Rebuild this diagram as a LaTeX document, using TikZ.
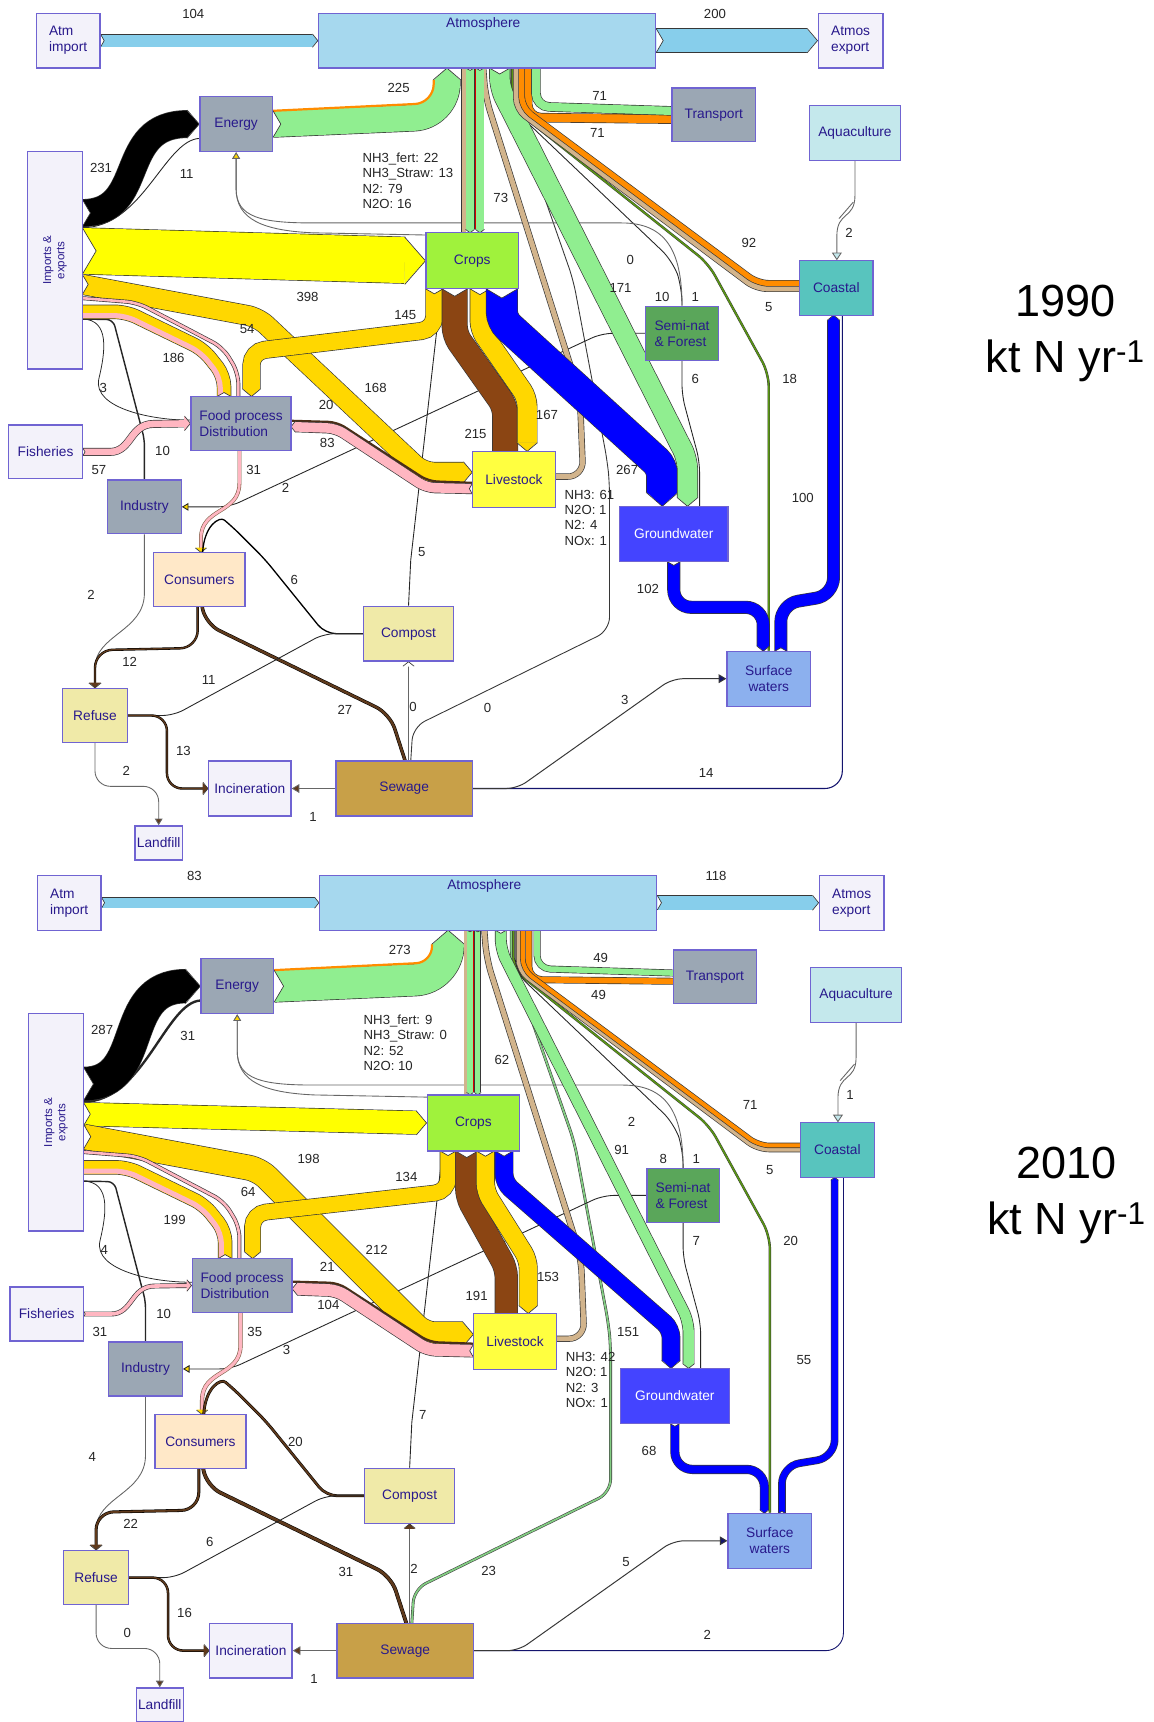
\documentclass[tikz,border=0pt]{standalone}
\usepackage{fontspec}
\setmainfont{Liberation Sans}
\usetikzlibrary{arrows.meta,calc}
\pgfdeclarelayer{fg}
\pgfsetlayers{main,fg}
\definecolor{nborder}{RGB}{112,100,210}
\definecolor{ntext}{RGB}{40,25,140}
\definecolor{lav}{RGB}{243,242,250}
\definecolor{atmc}{RGB}{166,216,238}
\definecolor{grayn}{RGB}{155,167,180}
\definecolor{aquac}{RGB}{196,232,236}
\definecolor{cropc}{RGB}{160,242,60}
\definecolor{coastc}{RGB}{88,196,190}
\definecolor{semic}{RGB}{90,166,90}
\definecolor{livec}{RGB}{255,255,64}
\definecolor{gwc}{RGB}{68,68,255}
\definecolor{consc}{RGB}{255,232,200}
\definecolor{khaki}{RGB}{240,234,168}
\definecolor{swc}{RGB}{140,176,238}
\definecolor{sewc}{RGB}{200,160,72}
\definecolor{bblue}{RGB}{135,206,235}
\definecolor{bgreen}{RGB}{144,238,144}
\definecolor{borange}{RGB}{255,140,0}
\definecolor{btan}{RGB}{210,180,140}
\definecolor{byellow}{RGB}{255,255,0}
\definecolor{bgold}{RGB}{255,215,0}
\definecolor{bpink}{RGB}{255,182,193}
\definecolor{bbrown}{RGB}{139,69,19}
\definecolor{bdblue}{RGB}{0,0,255}
\definecolor{oliveg}{RGB}{90,150,20}
\definecolor{dbrown}{RGB}{95,58,28}
\definecolor{bline}{RGB}{55,55,55}
\definecolor{navyl}{RGB}{20,20,110}
\definecolor{lgreen}{RGB}{130,205,130}
\tikzset{
 box/.style={draw=nborder,line width=1.2pt,inner sep=0pt,text=ntext,font=\fontsize{12.5}{14.5}\selectfont,align=center},
 ntxt/.style={text=ntext,font=\fontsize{12.5}{14.5}\selectfont,inner sep=0pt},
 lbl/.style={text=black!85,font=\fontsize{12}{14}\selectfont,inner sep=0pt},
 band/.style 2 args={draw=bline,line width=0.6pt,double=#1,double distance=#2},
 ln/.style={draw=black!85,line width=1pt},
 gln/.style={draw=black!60,line width=0.8pt},
 bln/.style={draw=black,line width=0.5pt,double=dbrown},
 pkline/.style={draw=dbrown!85,line width=0.5pt,double=bpink},
 oline/.style={draw=bline,line width=0.4pt,double=oliveg,double distance=1.4pt},
 bigt/.style={font=\fontsize{41}{45}\selectfont,inner sep=0pt,anchor=base}
}
\newcommand\setW[3]{\pgfmathsetmacro#1{max(#3*0.105,1.2)}\pgfmathsetmacro#2{0.45*#1}}
\newcommand\setT[2]{\pgfmathsetmacro#1{max(#2*0.07,0.8)}}
\newcommand\setD[2]{\pgfmathsetmacro#1{max(#2*0.08,1.2)}}
\newcommand\flab[4]{\node[lbl] (#1) at (#2,#3) {#4};}
\newcommand\bhead[4]{%
\begin{scope}[shift={#1},rotate=#2]
\fill[fill=#4] ({-0.45*#3-0.4},{0.5*#3+0.3}) -- (0,0) -- ({-0.45*#3-0.4},{-0.5*#3-0.3}) -- cycle;
\draw[draw=bline,line width=0.6pt,line join=miter] ({-0.45*#3},{0.5*#3+0.6}) -- (0,0) -- ({-0.45*#3},{-0.5*#3-0.6});
\end{scope}}
\newcommand\bnotch[3]{%
\begin{scope}[shift={#1},rotate=#2]
\fill[white] (0,{0.5*#3}) -- ({0.3*#3},0) -- (0,{-0.5*#3}) -- cycle;
\draw[draw=bline,line width=0.6pt,line join=miter] (0,{0.5*#3+0.3}) -- ({0.3*#3},0) -- (0,{-0.5*#3-0.3});
\end{scope}}
\newcommand\valsA{%
\def\vImp{104}\def\vExp{200}\def\vEnA{225}\def\vBlk{231}\def\vBlkT{11}\def\vFert{398}\def\vFeed{168}\def\vIF{54}\def\vIFp{186}\def\vCF{145}\def\vCLb{215}\def\vCLg{167}\def\vCG{267}\def\vAC{73}\def\vAG{171}\def\vTg{71}\def\vTo{71}\def\vCo{92}\def\vCf{5}\def\vSW{18}\def\vSa{10}\def\vSb{1}\def\vSc{0}\def\vSG{6}\def\vAq{2}\def\vSC{100}\def\vGS{102}\def\vSwC{14}\def\vSwS{3}\def\vSwA{0}\def\vSI{2}\def\vCC{5}\def\vCoC{6}\def\vFC{31}\def\vFLa{20}\def\vFLb{83}\def\vFi{57}\def\vII{10}\def\vIFt{3}\def\vIR{2}\def\vCR{12}\def\vCS{27}\def\vRC{11}\def\vRI{13}\def\vRL{2}\def\vSIn{1}\def\vSCo{0}%
\def\eA{22}\def\eB{13}\def\eC{79}\def\eD{16}\def\lA{61}\def\lB{1}\def\lC{4}\def\lD{1}\def\yr{1990}%
\def\yBlk{194}\def\yFert{228.5}\def\yFeed{259}\def\yThin{271.5}\def\yCombo{284}%
\def\xCF{395.5}\def\xCLb{414}\def\xCLg{437}\def\xCG{457}\def\xGWin{603}%
\def\gA{428}\def\gR{432.5}\def\gB{437}\def\gW{7}\def\tW{3.5}\def\scf{white}%
\tikzset{swaline/.style={draw=bline,line width=0.8pt},ccline/.style={draw=black,line width=1.2pt}}}
\newcommand\valsB{%
\def\vImp{83}\def\vExp{118}\def\vEnA{273}\def\vBlk{287}\def\vBlkT{31}\def\vFert{198}\def\vFeed{212}\def\vIF{64}\def\vIFp{199}\def\vCF{134}\def\vCLb{191}\def\vCLg{153}\def\vCG{151}\def\vAC{62}\def\vAG{91}\def\vTg{49}\def\vTo{49}\def\vCo{71}\def\vCf{5}\def\vSW{20}\def\vSa{8}\def\vSb{1}\def\vSc{2}\def\vSG{7}\def\vAq{1}\def\vSC{55}\def\vGS{68}\def\vSwC{2}\def\vSwS{5}\def\vSwA{23}\def\vSI{3}\def\vCC{7}\def\vCoC{20}\def\vFC{35}\def\vFLa{21}\def\vFLb{104}\def\vFi{31}\def\vII{10}\def\vIFt{4}\def\vIR{4}\def\vCR{22}\def\vCS{31}\def\vRC{6}\def\vRI{16}\def\vRL{0}\def\vSIn{1}\def\vSCo{2}%
\def\eA{9}\def\eB{0}\def\eC{52}\def\eD{10}\def\lA{42}\def\lB{1}\def\lC{3}\def\lD{1}\def\yr{2010}%
\def\yBlk{202}\def\yFert{229.5}\def\yFeed{250}\def\yThin{264}\def\yCombo{278}%
\def\xCF{407}\def\xCLb{424}\def\xCLg{441}\def\xCG{458}\def\xGWin{610}%
\def\gA{427}\def\gR{430.5}\def\gB{434}\def\gW{5}\def\tW{2}\def\scf{dbrown}%
\tikzset{swaline/.style={draw=black!75,line width=0.5pt,double=lgreen,double distance=1.6pt},ccline/.style={draw=black,line width=0.5pt,double=dbrown,double distance=1.6pt}}}
\newcommand\drawpanel{%
\setW\wImp\hImp\vImp
\setW\wExp\hExp\vExp
\setW\wEnA\hEnA\vEnA
\setW\wBlk\hBlk\vBlk
\setW\wFert\hFert\vFert
\setW\wFeed\hFeed\vFeed
\setW\wCF\hCF\vCF
\setW\wCLb\hCLb\vCLb
\setW\wCLg\hCLg\vCLg
\setW\wCG\hCG\vCG
\setW\wAG\hAG\vAG
\setW\wTg\hTg\vTg
\setW\wTo\hTo\vTo
\setW\wCo\hCo\vCo
\setW\wSC\hSC\vSC
\setW\wGS\hGS\vGS
\setW\wFi\hFi\vFi
\setW\wFLb\hFLb\vFLb
\pgfmathsetmacro\wCoH{\wCo/2}
\pgfmathsetmacro\wFiH{\wFi+6}
\pgfmathsetmacro\hFiH{0.45*\wFiH}
\pgfmathsetmacro\gH{0.45*\gW}
\pgfmathsetmacro\rOr{max(30-\wEnA/2-1,2)}
\pgfmathsetmacro\tanX{\gA-\gW/2-\tW/2-0.6}
\setT\tBlkT\vBlkT
\setT\tSwC\vSwC
\setT\tRC\vRC
\setT\tSa\vSa
\setT\tSG\vSG
\setD\dCR\vCR
\setD\dCS\vCS
\setD\dRI\vRI
\setD\dFC\vFC
\pgfmathsetmacro\dFLa{max(\vFLa*0.1,1.2)}
\begin{pgfonlayer}{fg}
\node[box,fill=lav,minimum width=58,minimum height=50,align=left] (atmimp) at (62,37) {Atm\\import};
\node[box,fill=atmc,minimum width=307,minimum height=50] (atm) at (443.5,37) {};
\node[ntxt] (atmlbl) at (440,22) {Atmosphere};
\node[box,fill=lav,minimum width=59,minimum height=50,align=left] (atmexp) at (774.5,37) {Atmos\\export};
\node[box,fill=grayn,minimum width=66,minimum height=50] (energy) at (215,113) {Energy};
\node[box,fill=grayn,minimum width=76,minimum height=49] (transport) at (650,104.5) {Transport};
\node[box,fill=aquac,minimum width=83,minimum height=50] (aqua) at (778.5,121) {Aquaculture};
\node[box,fill=lav,minimum width=50,minimum height=198] (imp) at (50,237) {};
\node[ntxt,rotate=90,align=center,font=\fontsize{10.5}{12}\selectfont] (implbl) at (50,237) {Imports \&\\exports};
\node[box,fill=cropc,minimum width=84,minimum height=51] (crops) at (430,237.5) {Crops};
\node[box,fill=coastc,minimum width=67,minimum height=50] (coastal) at (761.5,262) {Coastal};
\node[box,fill=semic,minimum width=66,minimum height=49,align=left] (semi) at (621,303.5) {Semi-nat\\\& Forest};
\node[box,fill=lav,minimum width=67,minimum height=49] (fish) at (41.5,411.5) {Fisheries};
\node[box,fill=grayn,minimum width=91,minimum height=49,align=left] (food) at (219.5,385.5) {Food process\\Distribution};
\node[box,fill=livec,minimum width=76,minimum height=51] (live) at (468,436.5) {Livestock};
\node[box,fill=grayn,minimum width=67,minimum height=49] (ind) at (131.5,461.5) {Industry};
\node[box,fill=gwc,text=white,minimum width=99,minimum height=50] (gw) at (613.5,486) {Groundwater};
\node[box,fill=consc,minimum width=83,minimum height=49] (cons) at (181.5,527.5) {Consumers};
\node[box,fill=khaki,minimum width=82,minimum height=50] (comp) at (372,577) {Compost};
\node[box,fill=swc,minimum width=76,minimum height=50] (sw) at (700,618) {Surface\\waters};
\node[box,fill=khaki,minimum width=59,minimum height=49] (ref) at (86.5,651.5) {Refuse};
\node[box,fill=lav,minimum width=75,minimum height=50] (inc) at (227.5,718) {Incineration};
\node[box,fill=sewc,minimum width=124,minimum height=50] (sew) at (368,718) {Sewage};
\node[box,fill=lav,minimum width=43,minimum height=31] (land) at (144.5,767.5) {Landfill};
\flab{l1}{176}{13}{\vImp}
\flab{l2}{651}{13}{\vExp}
\flab{l3}{363}{80}{\vEnA}
\flab{l4}{92}{153}{\vBlk}
\flab{l5}{170}{158}{\vBlkT}
\flab{l6}{456}{180}{\vAC}
\flab{l7}{546}{87}{\vTg}
\flab{l8}{544}{121}{\vTo}
\flab{l9}{682}{221}{\vCo}
\flab{l10}{773}{212}{\vAq}
\flab{l11}{574}{237}{\vSc}
\flab{l12}{565}{262}{\vAG}
\flab{l13}{603}{270}{\vSa}
\flab{l14}{633}{270}{\vSb}
\flab{l15}{700}{280}{\vCf}
\flab{l16}{280}{270}{\vFert}
\flab{l17}{369}{287}{\vCF}
\flab{l18}{225}{300}{\vIF}
\flab{l19}{158}{326}{\vIFp}
\flab{l20}{342}{353}{\vFeed}
\flab{l21}{94}{353}{\vIFt}
\flab{l22}{633}{345}{\vSG}
\flab{l23}{719}{345}{\vSW}
\flab{l24}{297}{369}{\vFLa}
\flab{l25}{298}{403}{\vFLb}
\flab{l26}{498}{378}{\vCLg}
\flab{l27}{433}{395}{\vCLb}
\flab{l28}{148}{411}{\vII}
\flab{l29}{90}{428}{\vFi}
\flab{l30}{231}{428}{\vFC}
\flab{l31}{571}{428}{\vCG}
\flab{l32}{260}{444}{\vSI}
\flab{l33}{731}{453}{\vSC}
\flab{l34}{384}{503}{\vCC}
\flab{l35}{268}{528}{\vCoC}
\flab{l36}{590}{536}{\vGS}
\flab{l37}{83}{542}{\vIR}
\flab{l38}{118}{603}{\vCR}
\flab{l39}{190}{619}{\vRC}
\flab{l40}{569}{637}{\vSwS}
\flab{l41}{314}{646}{\vCS}
\flab{l42}{376}{644}{\vSCo}
\flab{l43}{444}{645}{\vSwA}
\flab{l44}{167}{684}{\vRI}
\flab{l45}{115}{702}{\vRL}
\flab{l46}{643}{704}{\vSwC}
\flab{l47}{285}{744}{\vSIn}
\node[lbl,anchor=north west,align=left] (cemis) at (330,139) {NH3\_fert: \eA\\NH3\_Straw: \eB\\N2: \eC\\N2O: \eD};
\node[lbl,anchor=north west,align=left] (lemis) at (514,446) {NH3: \lA\\N2O: \lB\\N2: \lC\\NOx: \lD};
\node[bigt] (yrlbl) at (970,288) {\yr};
\node[bigt] (unitlbl) at (970,339) {kt N yr\textsuperscript{-1}};
\end{pgfonlayer}
% thin lines first
\draw[swaline,rounded corners=12] ($(sew)+(6,-25)$) -- (376,662) -- (555,574) -- (555,440) -- (553,420) -- (522,255) -- (464.5,90) -- ($(atm)+(21,25)$);
\draw[oline,rounded corners=12] ($(atm)+(23,25)$) -- (466.5,98) -- (645,240) -- (700,340) -- (sw.north);
\draw[ln,line width=\tSa pt,rounded corners=14] ($(atm)+(24.5,25)$) -- (468,100) -- (613,238) -- (621,262) -- (semi.north);
\draw[gln,-{Triangle[length=6pt,width=7pt,fill=bgold]}] (semi.north) .. controls (621,228) and (606,203) .. (566,203) -- (285,203) .. controls (238,203) and (215,198) .. (215,172) -- (energy.south);
\draw[gln,-{Triangle[length=6pt,width=7pt,fill=bgold]}] ($(crops)+(-42,-23.5)$) -- (285,212) .. controls (240,210) and (215,200) .. (215,172) -- (energy.south);
\draw[ln,line width=\tSG pt,rounded corners=10] (semi.south) -- (621,360) -- (637,420) -- ($(gw)+(23.5,-25)$);
\draw[gln,-{Triangle[length=7pt,width=9pt,fill=aquac]}] (aqua.south) -- (778.5,178) .. controls (778.5,200) and (762,192) .. (762,215) -- ($(coastal)+(0.5,-25)$);
\draw[gln] (764,199) -- (777,184);
\draw[ln,line width=0.8pt,rounded corners=10,-{Triangle[length=6pt,width=7pt,fill=bgold]}] (semi.west) -- (548,303.5) -- (209,461.5) -- (ind.east);
\draw[ln,line width=0.8pt] (comp.north) -- (374,510) -- ($(crops)+(-28,25.5)$);
\draw[ln,line width=0.7pt] ($(imp)+(25,53.5)$) .. controls (100,291) and (96,320) .. (90,345) .. controls (84,372) and (140,383) .. ($(food)+(-45.5,-3)$);
\draw[ln,line width=1.3pt,rounded corners=6] ($(imp)+(25,53.5)$) -- (103,291) -- (131.5,400) -- (ind.north);
\draw[ln,line width=\tBlkT pt] ($(imp)+(25,{\yBlk-237+\wBlk/2+1.2})$) .. controls (130,{\yBlk+\wBlk/2+1}) and (150,127) .. ($(energy)+(-33,13)$);
% atmosphere import / export
\draw[band={bblue}{\wImp pt},shorten >=\hImp pt] (atmimp.east) -- (atm.west);
\bhead{(atm.west)}{0}{\wImp}{bblue}
\bnotch{(atmimp.east)}{0}{\wImp}
\draw[band={bblue}{\wExp pt},shorten >=\hExp pt] (atm.east) -- (atmexp.west);
\bhead{(atmexp.west)}{0}{\wExp}{bblue}
\bnotch{(atm.east)}{0}{\wExp}
% livestock -> atmosphere
\draw[band={btan}{4.5pt},rounded corners=14] ($(live)+(38,-2.5)$) -- (531,434) -- (528,360) -- (442,88) -- ($(atm)+(-3.5,25)$);
% energy -> atmosphere
\draw[band={bgreen}{\wEnA pt},rounded corners=30,shorten >=\hEnA pt] (energy.east) -- (407,106) -- ($(atm)+(-36.5,25)$);
\bhead{($(atm)+(-36.5,25)$)}{90}{\wEnA}{bgreen}
\draw[borange,line width=2pt,rounded corners=\rOr pt] ($(energy.east)+(0,{-\wEnA/2-0.3})$) -- ({407-\wEnA/2-0.3},{106-\wEnA/2-0.3}) -- ({407-\wEnA/2-0.3},{62+\hEnA});
\bnotch{(energy.east)}{0}{\wEnA}
% imports -> energy
\draw[band={black}{\wBlk pt},shorten >=\hBlk pt] ($(imp)+(25,{\yBlk-237})$) .. controls (135,\yBlk) and (105,113) .. (energy.west);
\bhead{(energy.west)}{0}{\wBlk}{black}
\bnotch{($(imp)+(25,{\yBlk-237})$)}{0}{\wBlk}
% imports -> crops
\draw[band={byellow}{\wFert pt},shorten >=\hFert pt] ($(imp)+(25,{\yFert-237})$) -- (crops.west);
\bhead{(crops.west)}{0}{\wFert}{byellow}
\bnotch{($(imp)+(25,{\yFert-237})$)}{0}{\wFert}
% imports -> livestock
\draw[band={bgold}{\wFeed pt},rounded corners=10,shorten >=\hFeed pt] ($(imp)+(25,{\yFeed-237})$) -- (235,{\yFeed+30}) -- (385,430) -- ($(live)+(-38,-6.5)$);
\bhead{($(live)+(-38,-6.5)$)}{0}{\wFeed}{bgold}
\bnotch{($(imp)+(25,{\yFeed-237})$)}{0}{\wFeed}
% imports <-> food
\draw[band={bgold}{12pt},rounded corners=10] ($(imp)+(25,{\yCombo-237})$) -- (115,\yCombo) -- (185,{\yCombo+34}) -- (204,{\yCombo+58}) -- ($(food)+(-15.5,-24.5)$);
\draw[bpink,line width=4.6pt,rounded corners=10] ($(imp)+(25.6,{\yCombo-237+3.4})$) -- (114.2,{\yCombo+3.4}) -- (182.8,{\yCombo+36.7}) -- (200.6,{\yCombo+59.2}) -- ($(food)+(-18.9,-25)$);
\bnotch{($(food)+(-15.5,-24.5)$)}{90}{12}
\draw[band={bpink}{2.4pt},rounded corners=10] ($(imp)+(25,{\yThin-237})$) -- (125,{\yThin+4}) -- (203,{\yThin+45}) -- (217,{\yThin+68}) -- ($(food)+(-2.5,-24.5)$);
% crops -> food
\draw[band={bgold}{\wCF pt},rounded corners=12,shorten >=\hCF pt] ($(crops)+({\xCF-430},25.5)$) -- (\xCF,300) -- (229,320) -- ($(food)+(9.5,-24.5)$);
\bhead{($(food)+(9.5,-24.5)$)}{-90}{\wCF}{bgold}
\bnotch{($(crops)+({\xCF-430},25.5)$)}{-90}{\wCF}
% crops -> livestock
\draw[band={bbrown}{\wCLb pt},rounded corners=8] ($(crops)+({\xCLb-430},25.5)$) -- (\xCLb,305) -- (460,370) -- ($(live)+(-8,-25.5)$);
\bnotch{($(crops)+({\xCLb-430},25.5)$)}{-90}{\wCLb}
\draw[band={bgold}{\wCLg pt},rounded corners=8,shorten >=\hCLg pt] ($(crops)+({\xCLg-430},25.5)$) -- (\xCLg,300) -- (480,362) -- ($(live)+(12,-25.5)$);
\bhead{($(live)+(12,-25.5)$)}{-90}{\wCLg}{bgold}
\bnotch{($(crops)+({\xCLg-430},25.5)$)}{-90}{\wCLg}
% crops -> groundwater
\draw[band={bdblue}{\wCG pt},rounded corners=8,shorten >=\hCG pt] ($(crops)+({\xCG-430},25.5)$) -- (\xCG,292) -- (\xGWin,425) -- ($(gw)+({\xGWin-613.5},-25)$);
\bhead{($(gw)+({\xGWin-613.5},-25)$)}{-90}{\wCG}{bdblue}
\bnotch{($(crops)+({\xCG-430},25.5)$)}{-90}{\wCG}
% atmosphere -> crops
\draw[band={btan}{\tW pt}] ($(atm)+({\tanX-443.5},25)$) -- ($(crops)+({\tanX-430},-25.5)$);
\draw[band={bgreen}{\gW pt},shorten >=\gH pt] ($(atm)+({\gA-443.5},25)$) -- ($(crops)+({\gA-430},-25.5)$);
\bhead{($(crops)+({\gA-430},-25.5)$)}{-90}{\gW}{bgreen}
\bnotch{($(atm)+({\gA-443.5},25)$)}{-90}{\gW}
\draw[band={bgreen}{\gW pt},shorten >=\gH pt] ($(atm)+({\gB-443.5},25)$) -- ($(crops)+({\gB-430},-25.5)$);
\bhead{($(crops)+({\gB-430},-25.5)$)}{-90}{\gW}{bgreen}
\bnotch{($(atm)+({\gB-443.5},25)$)}{-90}{\gW}
\draw[red!85!black,line width=0.8pt] ($(atm)+({\gR-443.5},25)$) -- ($(crops)+({\gR-430},{-25.5-\gH})$);
% atmosphere -> groundwater
\draw[band={bgreen}{\wAG pt},rounded corners=10,shorten >=\hAG pt] ($(atm)+(11.5,25)$) -- (455,80) -- (626,418) -- ($(gw)+(12.5,-25)$);
\bhead{($(gw)+(12.5,-25)$)}{-90}{\wAG}{bgreen}
\bnotch{($(atm)+(11.5,25)$)}{-90}{\wAG}
% atmosphere -> transport
\draw[band={borange}{\wTo pt},rounded corners=12] ($(atm)+(37,25)$) -- (480.5,107) -- ($(transport)+(-38,4)$);
\draw[band={bgreen}{\wTg pt},rounded corners=12] ($(atm)+(44.5,25)$) -- (488,97) -- ($(transport)+(-38,-3.5)$);
% atmosphere -> coastal
\draw[band={btan}{\wCoH pt},rounded corners=10] ($(atm)+({31.5-\wCoH},25)$) -- ({475-\wCoH},{98+0.3*\wCoH}) -- ({690-0.3*\wCoH},{258+\wCoH}) -- ($(coastal)+(-33.5,{-4+\wCoH})$);
\draw[band={borange}{\wCoH pt},rounded corners=10] ($(atm)+(31.5,25)$) -- (475,98) -- (690,258) -- ($(coastal)+(-33.5,-4)$);
% surface waters -> coastal
\draw[band={bdblue}{\wSC pt},rounded corners=16,shorten >=\hSC pt] ($(sw)+(11,-25)$) -- (711,550) -- (759,542) -- ($(coastal)+(-2.5,25)$);
\bhead{($(coastal)+(-2.5,25)$)}{90}{\wSC}{bdblue}
\bnotch{($(sw)+(11,-25)$)}{90}{\wSC}
% groundwater -> surface waters
\draw[band={bdblue}{\wGS pt},rounded corners=16,shorten >=\hGS pt] (gw.south) -- (613.5,553) -- (695,553) -- ($(sw)+(-5,-25)$);
\bhead{($(sw)+(-5,-25)$)}{-90}{\wGS}{bdblue}
\bnotch{(gw.south)}{-90}{\wGS}
% sewage -> coastal / surface waters
\draw[draw=navyl,line width=\tSwC pt,rounded corners=16] (sew.east) -- (767,718) -- ($(coastal)+(5.5,25)$);
\draw[draw=bline,line width=0.9pt,rounded corners=10,-{Triangle[length=7pt,width=8pt,fill=navyl]}] (sew.east) -- (471,718) -- (612,618) -- (sw.west);
% food -> consumers
\draw[pkline,double distance=\dFC pt,shorten >=4pt] ($(food)+(-1.5,24.5)$) -- (218,440) .. controls (218,468) and (183,462) .. (183,490) -- ($(cons)+(1.5,-24.5)$);
\bhead{($(cons)+(1.5,-24.5)$)}{-90}{9}{bgold}
% fisheries -> food
\draw[band={bpink}{\wFi pt},shorten >=\hFiH pt] (fish.east) -- (100,411.5) .. controls (120,411.5) and (118,386) .. (140,386) -- (food.west);
\bhead{(food.west)}{0}{\wFiH}{bpink}
\bnotch{(fish.east)}{0}{\wFi}
% food <-> livestock
\draw[draw=dbrown!80!black,line width=\dFLa pt,rounded corners=8] ($(food)+(45.5,{3-\wFLb/2-1})$) -- (307,{390-\wFLb/2-1.3}) -- (390,{444-\wFLb/2-1.5}) -- ($(live)+(-38,{8.5-\wFLb/2-1})$);
\draw[band={bpink}{\wFLb pt},rounded corners=8,shorten >=\hFLb pt] ($(live)+(-38,8.5)$) -- (388,444) -- (306,390) -- ($(food)+(45.5,3)$);
\bhead{($(food)+(45.5,3)$)}{180}{\wFLb}{bpink}
\bnotch{($(live)+(-38,8.5)$)}{180}{\wFLb}
% waste flows
\draw[gln] (ind.south) -- (131.5,540) .. controls (131.5,575) and (86.5,578) .. (86.5,608) -- (ref.north);
\draw[bln,double distance=\dCR pt,rounded corners=16,shorten >=4pt] ($(cons)+(-1.5,24.5)$) -- (180,590) -- (86.5,592) -- (ref.north);
\bhead{(ref.north)}{-90}{10}{dbrown}
\draw[bln,double distance=\dCS pt,rounded corners=14] ($(cons)+(2.5,24.5)$) -- (187,568) -- (355,650) -- ($(sew)+(1,-25)$);
\draw[ccline,rounded corners=10] (comp.west) -- (296,577) -- (241,509) -- (212,480) .. controls (200,470) and (186,478) .. ($(cons)+(3,-24.5)$);
\draw[ln,line width=\tRC pt,rounded corners=10] (ref.east) -- (158,651.5) -- (295,577) -- (comp.west);
\draw[bln,double distance=\dRI pt,rounded corners=14,shorten >=4pt] (ref.east) -- (152,651.5) -- (152,718) -- (inc.west);
\bhead{(inc.west)}{0}{10}{dbrown}
\draw[gln,rounded corners=14,-{Triangle[length=6pt,width=7pt,fill=dbrown]}] (ref.south) -- (86.5,716) -- (144.5,716) -- (land.north);
\draw[gln,-{Triangle[length=7pt,width=8pt,fill=dbrown]}] (sew.west) -- (inc.east);
\draw[gln,shorten >=4pt] ($(sew)+(4,-25)$) -- (comp.south);
\bhead{(comp.south)}{90}{9}{\scf}
}
\begin{document}
\begin{tikzpicture}[x=1pt,y=-1pt]
\useasboundingbox (0,0) rectangle (1050,1568);
\fill[white] (0,0) rectangle (1050,1568);
\begin{scope}[name prefix=a-]
\valsA
\drawpanel
\end{scope}
\begin{scope}[shift={(1,785)},name prefix=b-]
\valsB
\drawpanel
\end{scope}
\end{tikzpicture}
\end{document}
